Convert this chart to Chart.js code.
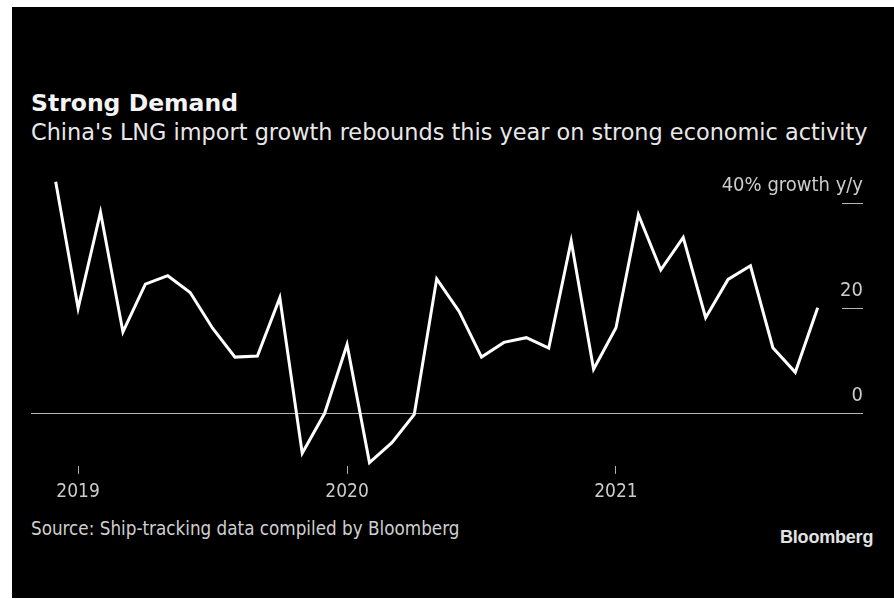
<!DOCTYPE html>
<html>
<head>
<meta charset="utf-8">
<script src="https://cdn.jsdelivr.net/npm/chart.js@4"></script>
<style>
    html, body { margin: 0; padding: 0; background: #fff; }
    body { width: 894px; height: 599px; position: relative; overflow: hidden; }
    #panel { position: absolute; left: 12px; top: 7px; width: 882px; height: 591px; background: #000; }
    #chartBox { position: absolute; left: 0; top: 0; width: 894px; height: 599px; }
    .txt { position: absolute; white-space: nowrap; line-height: 1; }
    #title { left: 31px; top: 88.5px; font: bold 23.5px 'DejaVu Sans', sans-serif; color: #f4f4f4; }
    #subtitle { left: 31px; top: 119px; font: 22.4px 'DejaVu Sans', sans-serif; color: #e8e8e8; }
    #source { left: 31px; top: 518px; font: 18.7px 'DejaVu Sans Condensed', 'DejaVu Sans', sans-serif; color: #cfcfcf; }
    #logo { left: 780px; top: 526.5px; font: bold 18px 'Liberation Sans', Arial, sans-serif; color: #e2e2e2; letter-spacing: -0.2px; }
</style>
</head>
<body>
<div id="panel"></div>
<div class="txt" id="title">Strong Demand</div>
<div class="txt" id="subtitle">China's LNG import growth rebounds this year on strong economic activity</div>
<div class="txt" id="source">Source: Ship-tracking data compiled by Bloomberg</div>
<div class="txt" id="logo">Bloomberg</div>
<div id="chartBox"><canvas id="lngChart" width="894" height="599"></canvas></div>

<script>
// monthly, Dec 2018 .. Oct 2021
const months = [
    '2018-12',
    '2019-01', '2019-02', '2019-03', '2019-04', '2019-05', '2019-06',
    '2019-07', '2019-08', '2019-09', '2019-10', '2019-11', '2019-12',
    '2020-01', '2020-02', '2020-03', '2020-04', '2020-05', '2020-06',
    '2020-07', '2020-08', '2020-09', '2020-10', '2020-11', '2020-12',
    '2021-01', '2021-02', '2021-03', '2021-04', '2021-05', '2021-06',
    '2021-07', '2021-08', '2021-09', '2021-10'
];

// LNG import growth, % y/y
const growth = [
    44.1,
    20.0, 38.3, 15.5, 24.6, 26.2, 23.0,
    16.2, 10.7, 10.9, 22.0, -7.6, 0.0,
    13.1, -9.4, -5.6, -0.2, 25.6, 19.4,
    10.7, 13.5, 14.4, 12.4, 32.8, 8.4,
    16.3, 37.8, 27.3, 33.5, 18.2, 25.5,
    28.1, 12.5, 7.8, 20.1
];

const yTicks = [0, 20, 40];
const yTickLabels = ['0', '20', '40% growth y/y'];

const isYearStart = (i) => months[i] && months[i].endsWith('-01');

// zero line + right-hand tick dashes and labels
const yAxisMarks = {
    id: 'yAxisMarks',
    beforeDatasetsDraw(chart) {
        const ctx = chart.ctx;
        const y = chart.scales.y;
        ctx.save();
        ctx.strokeStyle = '#b4b4b4';
        ctx.lineWidth = 1;
        yTicks.forEach((v) => {
            const py = Math.round(y.getPixelForValue(v)) + 0.5;
            ctx.beginPath();
            ctx.moveTo(v === 0 ? 31 : 842, py);
            ctx.lineTo(863, py);
            ctx.stroke();
        });
        ctx.fillStyle = '#cccccc';
        ctx.font = "20px 'DejaVu Sans Condensed', 'DejaVu Sans', sans-serif";
        ctx.textAlign = 'right';
        ctx.textBaseline = 'alphabetic';
        yTicks.forEach((v, i) => {
            ctx.fillText(yTickLabels[i], 863, y.getPixelForValue(v) - 12);
        });
        ctx.restore();
    }
};

new Chart(document.getElementById('lngChart'), {
    type: 'line',
    data: {
        labels: months,
        datasets: [{
            data: growth,
            borderColor: '#ffffff',
            borderWidth: 3,
            borderJoinStyle: 'miter',
            pointRadius: 0,
            tension: 0,
            fill: false,
            clip: false
        }]
    },
    options: {
        responsive: false,
        animation: false,
        layout: { padding: { left: 55.7, right: 76.3, top: 177, bottom: 99.2 } },
        plugins: { legend: { display: false }, tooltip: { enabled: false } },
        scales: {
            x: {
                type: 'category',
                offset: false,
                border: { display: false },
                grid: {
                    drawOnChartArea: false,
                    tickLength: 8,
                    tickWidth: 1,
                    tickColor: (c) => isYearStart(c.index) ? '#b4b4b4' : 'rgba(0,0,0,0)'
                },
                ticks: {
                    autoSkip: false,
                    maxRotation: 0,
                    padding: 7,
                    color: '#cccccc',
                    font: { family: "'DejaVu Sans Condensed', 'DejaVu Sans', sans-serif", size: 19 },
                    callback: (val, i) => isYearStart(i) ? months[i].slice(0, 4) : ''
                },
                afterFit: (s) => { s.height = 34; }
            },
            y: {
                display: false,
                min: -10,
                max: 45
            }
        }
    },
    plugins: [yAxisMarks]
});
</script>
</body>
</html>
